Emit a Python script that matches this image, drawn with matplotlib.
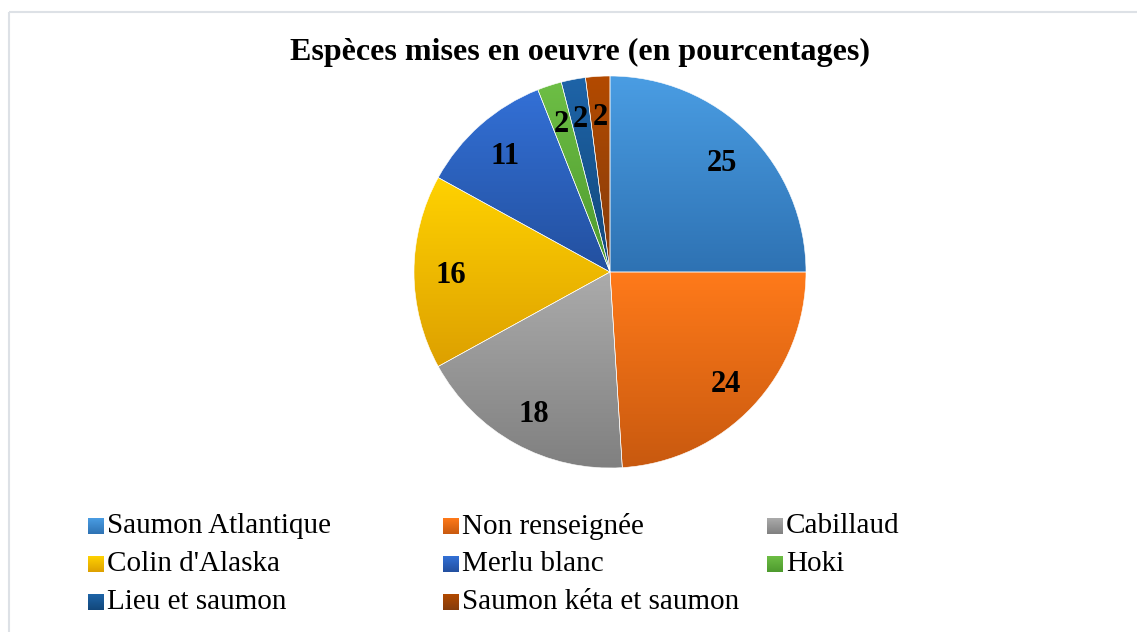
import numpy as np
import matplotlib
matplotlib.use("Agg")
import matplotlib.pyplot as plt
from matplotlib.patches import Rectangle
from matplotlib.colors import LinearSegmentedColormap

# ---- data ----
categories = ["Saumon Atlantique", "Non renseignée", "Cabillaud", "Colin d'Alaska",
              "Merlu blanc", "Hoki", "Lieu et saumon", "Saumon kéta et saumon"]
values = [25, 24, 18, 16, 11, 2, 2, 2]
title = "Espèces mises en oeuvre (en pourcentages)"

# gradient colours (top, bottom)
top_colors = ["#4A9DE3", "#FF7A1A", "#ABABAB", "#FFD200", "#3370D6", "#6DBE45", "#1E64A8", "#B34A00"]
bot_colors = ["#2E72B3", "#C8590F", "#808080", "#DDA000", "#23509F", "#4E9A2E", "#12477A", "#843C0C"]

W, H = 1137, 632
fig = plt.figure(figsize=(W / 100, H / 100), dpi=100)
fig.patch.set_facecolor("white")

# frame
bg = fig.add_axes([0, 0, 1, 1])
bg.set_xlim(0, W)
bg.set_ylim(H, 0)
bg.axis("off")
bg.add_patch(Rectangle((8.5, 11.5), W + 20, H + 20, fill=False, edgecolor="#DDE1E6", linewidth=1.5))

# pie axes
cx, cy, R = 610, 272, 196
ax = fig.add_axes([(cx - R) / W, (H - cy - R) / H, 2 * R / W, 2 * R / H])
ax.set_xlim(-1, 1)
ax.set_ylim(-1, 1)
ax.set_aspect("equal")
ax.axis("off")

serif = ["Liberation Serif", "DejaVu Serif"]

wedges, texts = ax.pie(values, startangle=90, counterclock=False, radius=1,
                       labels=[str(v) for v in values], labeldistance=0.81,
                       wedgeprops=dict(edgecolor="white", linewidth=0.4),
                       textprops=dict(fontfamily=serif, fontweight="bold", fontsize=22,
                                      ha="center", va="center_baseline"))

grad = np.linspace(0, 1, 256).reshape(-1, 1)
for w, c1, c2 in zip(wedges, top_colors, bot_colors):
    w.set_facecolor("none")
    ext = w.get_path().get_extents(w.get_transform() + ax.transData.inverted())
    cmap = LinearSegmentedColormap.from_list("g", [c2, c1])
    im = ax.imshow(grad, cmap=cmap, origin="lower", aspect="auto",
                   extent=[ext.x0, ext.x1, ext.y0, ext.y1], zorder=w.get_zorder() - 0.1)
    im.set_clip_path(w)
ax.set_xlim(-1, 1)
ax.set_ylim(-1, 1)

for t in texts:
    t.set_color("black")
    t.set_va("center_baseline")

# title
fig.text(580 / W, 1 - 52 / H, title, ha="center", va="center",
         fontfamily=serif, fontweight="bold", fontsize=23)

# legend
col_x = [88, 443, 767]
row_y = [526, 564, 602]
sq = 16
for i, (lab, c1, c2) in enumerate(zip(categories, top_colors, bot_colors)):
    r, c = divmod(i, 3)
    x, y = col_x[c], row_y[r]
    cmap = LinearSegmentedColormap.from_list("g", [c1, c2])
    bg.imshow(grad, cmap=cmap, origin="upper", aspect="auto",
              extent=[x, x + sq, y + sq / 2, y - sq / 2], zorder=2)
    bg.text(x + sq + 3, y, lab, ha="left", va="center", fontfamily=serif, fontsize=21, color="black")
bg.set_xlim(0, W)
bg.set_ylim(H, 0)

fig.savefig("out.png", dpi=100, facecolor="white")
